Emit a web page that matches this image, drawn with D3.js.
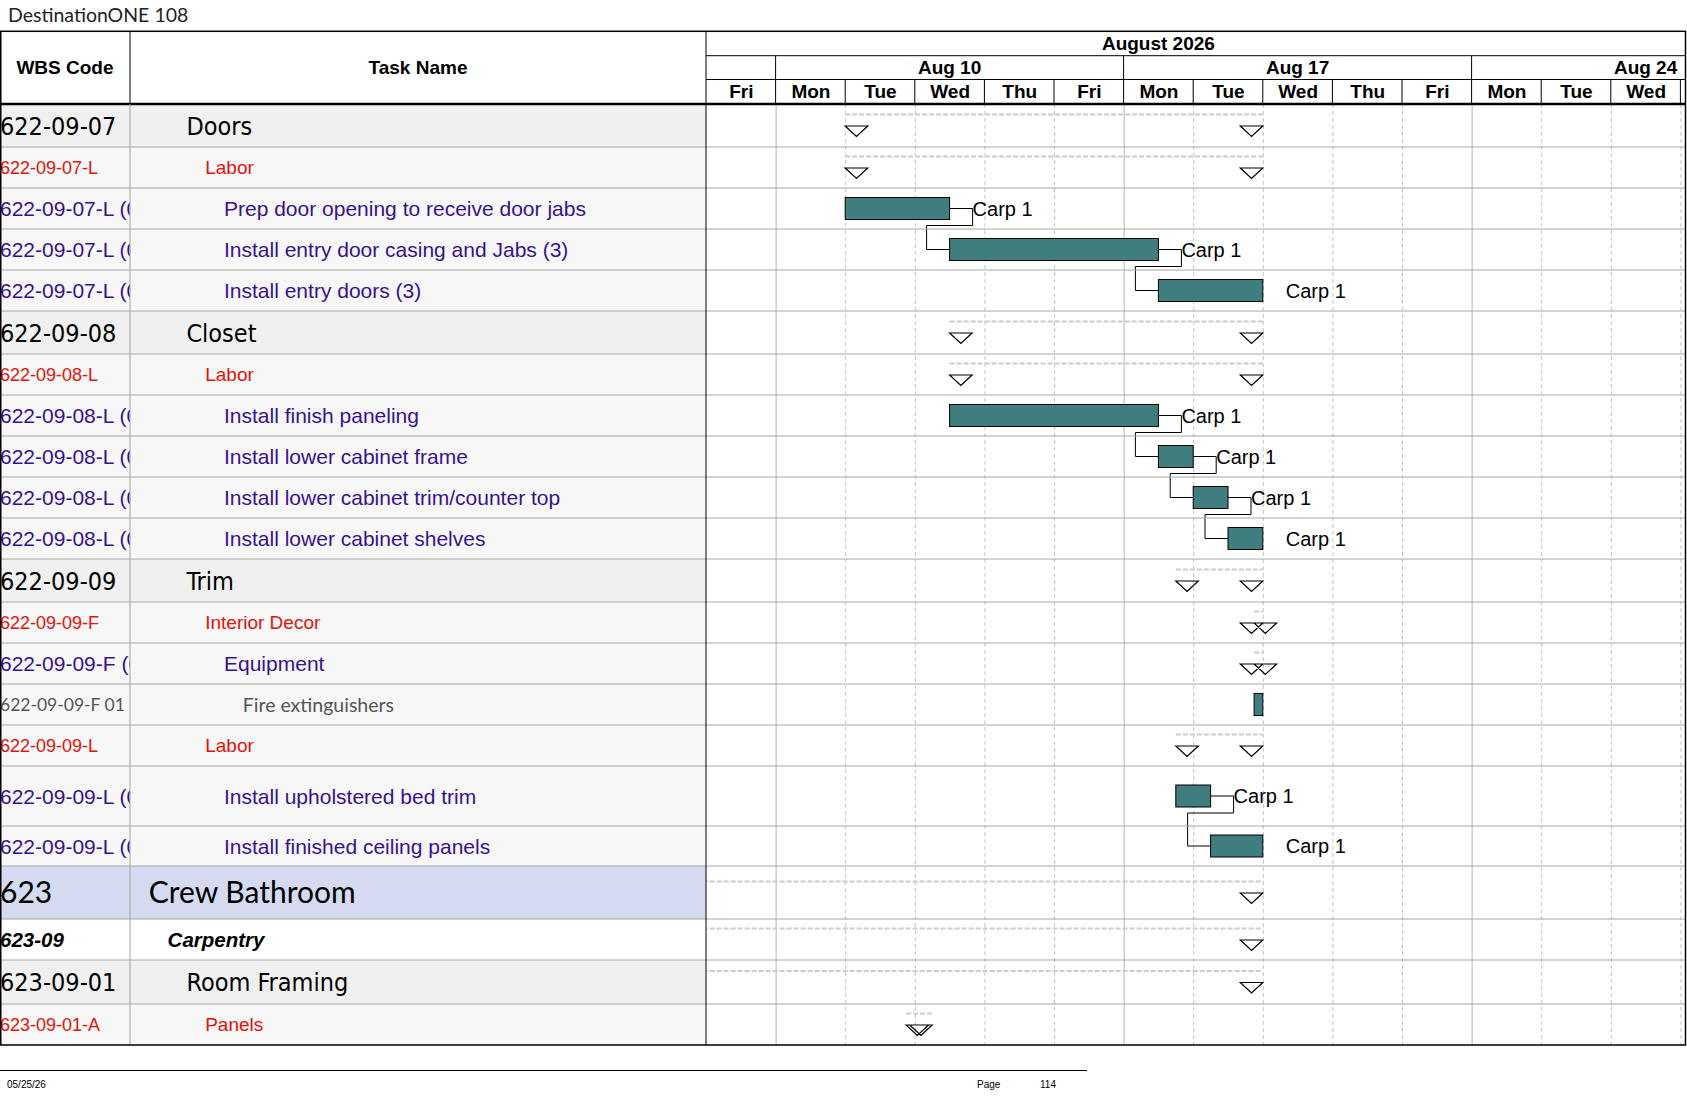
<!DOCTYPE html>
<html>
<head>
<meta charset="utf-8">
<title>DestinationONE 108 - Gantt</title>
<script src="https://d3js.org/d3.v7.min.js"></script>
<style>
  body { margin: 0; background: #fff; }
  svg { display: block; font-family: "Liberation Sans", Arial, sans-serif; }
</style>
</head>
<body>
<svg id="chart"></svg>
<script>
// ---------- data ----------
const wbsCodes = [
  "622-09-07", "622-09-07-L", "622-09-07-L (01)", "622-09-07-L (02)", "622-09-07-L (03)",
  "622-09-08", "622-09-08-L", "622-09-08-L (01)", "622-09-08-L (02)", "622-09-08-L (03)", "622-09-08-L (04)",
  "622-09-09", "622-09-09-F", "622-09-09-F (01)", "622-09-09-F 01", "622-09-09-L",
  "622-09-09-L (01)", "622-09-09-L (02)",
  "623", "623-09", "623-09-01", "623-09-01-A"
];
const taskNames = [
  "Doors", "Labor", "Prep door opening to receive door jabs", "Install entry door casing and Jabs (3)", "Install entry doors (3)",
  "Closet", "Labor", "Install finish paneling", "Install lower cabinet frame", "Install lower cabinet trim/counter top", "Install lower cabinet shelves",
  "Trim", "Interior Decor", "Equipment", "Fire extinguishers", "Labor",
  "Install upholstered bed trim", "Install finished ceiling panels",
  "Crew Bathroom", "Carpentry", "Room Framing", "Panels"
];
const outlineLevels = [3, 4, 5, 5, 5, 3, 4, 5, 5, 5, 5, 3, 4, 5, 6, 4, 5, 5, 1, 2, 3, 4];
const rowKinds = [
  "summary", "phase", "task", "task", "task",
  "summary", "phase", "task", "task", "task", "task",
  "summary", "phase", "task", "item", "phase", "task", "task",
  "group", "sub", "summary", "phase"
];
const markTypes = [
  "sum", "sum", "bar", "bar", "bar",
  "sum", "sum", "bar", "bar", "bar", "bar",
  "sum", "sum", "sum", "bar", "sum", "bar", "bar",
  "sum", "sum", "sum", "sum"
];
const starts = [
  "2026-08-11 08:00", "2026-08-11 08:00", "2026-08-11 08:00", "2026-08-12 13:00", "2026-08-17 13:00",
  "2026-08-12 13:00", "2026-08-12 13:00", "2026-08-12 13:00", "2026-08-17 13:00", "2026-08-18 08:00", "2026-08-18 13:00",
  "2026-08-17 15:00", "2026-08-18 16:00", "2026-08-18 16:00", "2026-08-18 16:00", "2026-08-17 15:00",
  "2026-08-17 15:00", "2026-08-18 10:00",
  "2026-07-27 08:00", "2026-07-27 08:00", "2026-07-27 08:00", "2026-08-11 16:00"
];
const finishes = [
  "2026-08-18 17:00", "2026-08-18 17:00", "2026-08-12 12:00", "2026-08-17 12:00", "2026-08-18 17:00",
  "2026-08-18 17:00", "2026-08-18 17:00", "2026-08-17 12:00", "2026-08-17 17:00", "2026-08-18 12:00", "2026-08-18 17:00",
  "2026-08-18 17:00", "2026-08-18 17:00", "2026-08-18 17:00", "2026-08-18 17:00", "2026-08-18 17:00",
  "2026-08-18 10:00", "2026-08-18 17:00",
  "2026-08-18 17:00", "2026-08-18 17:00", "2026-08-18 17:00", "2026-08-12 10:00"
];
const resources = [
  "", "", "Carp 1", "Carp 1", "Carp 1",
  "", "", "Carp 1", "Carp 1", "Carp 1", "Carp 1",
  "", "", "", "", "", "Carp 1", "Carp 1",
  "", "", "", ""
];
const predecessors = [null, null, null, 2, 3, null, null, null, 7, 8, 9, null, null, null, null, null, null, 16, null, null, null, null];

const dayDates = [
  "2026-08-07", "2026-08-10", "2026-08-11", "2026-08-12", "2026-08-13", "2026-08-14",
  "2026-08-17", "2026-08-18", "2026-08-19", "2026-08-20", "2026-08-21",
  "2026-08-24", "2026-08-25", "2026-08-26"
];
const weekStarts = ["2026-08-10", "2026-08-17", "2026-08-24"];
const monthStarts = ["2026-08-01"];
const monthEnds = ["2026-09-01"];

const pageTitle = "DestinationONE 108";
const printDate = "05/25/26";
const pageNumber = "114";

// ---------- layout ----------
const W = 1687, H = 1097;
const colWbs = 130, colTask = 706, chartRight = 1685.5;
const headTop = 31.3, monthBottom = 55.7, weekBottom = 79.5, headBottom = 104;
const rowHeights = [43, 41, 41, 41, 41, 43, 41, 41, 41, 41, 41, 43, 41, 41, 41, 41, 60, 40, 53, 41, 44, 41];
const rowTops = [];
rowHeights.reduce((acc, h, i) => { rowTops[i] = acc; return acc + h; }, headBottom);
const bodyBottom = rowTops[rowTops.length - 1] + rowHeights[rowHeights.length - 1];

const styles = {
  summary: { font: '"DejaVu Sans Condensed", "DejaVu Sans", sans-serif', codeSize: 25, nameSize: 25, color: "#000", bg: "#f0f0f0", cap: 0.73 },
  phase:   { font: '"Liberation Sans", Arial, sans-serif', codeSize: 18, nameSize: 19, color: "#e3120b", bg: "#f7f7f7", cap: 0.716 },
  task:    { font: '"Liberation Sans", Arial, sans-serif', codeSize: 21, nameSize: 21, color: "#38128e", bg: "#f7f7f7", cap: 0.716 },
  item:    { font: 'Lato, "Open Sans", sans-serif', codeSize: 17.5, nameSize: 19.5, color: "#555", bg: "#f7f7f7", cap: 0.72 },
  group:   { font: 'Lato, "Open Sans", sans-serif', codeSize: 30, nameSize: 30, color: "#000", bg: "#d4daf0", cap: 0.72 },
  sub:     { font: '"Liberation Sans", Arial, sans-serif', codeSize: 20.5, nameSize: 20.5, color: "#000", bg: "#ffffff", cap: 0.716, weight: "bold", italic: true }
};

// ---------- working time scale ----------
const parseTime = d3.timeParse("%Y-%m-%d %H:%M");
const origin = new Date(2026, 7, 7);
const isWork = d => d.getDay() !== 0 && d.getDay() !== 6;
function workIndex(str) {
  const t = str.length > 10 ? parseTime(str) : parseTime(str + " 08:00");
  const day = d3.timeDay.floor(t);
  const n = day >= origin
    ? d3.timeDay.range(origin, day).filter(isWork).length
    : -d3.timeDay.range(day, origin).filter(isWork).length;
  const h = t.getHours() + t.getMinutes() / 60;
  const worked = h <= 12 ? Math.max(0, h - 8) : Math.min(8, h - 9);
  return n + worked / 8;
}

const x = d3.scaleLinear().domain([0, 14]).range([colTask, 1680.4]);

const rows = wbsCodes.map((code, i) => ({
  i, code, name: taskNames[i], level: outlineLevels[i], kind: rowKinds[i], mark: markTypes[i],
  s: workIndex(starts[i]), f: workIndex(finishes[i]), res: resources[i], pred: predecessors[i],
  top: rowTops[i], h: rowHeights[i], cy: rowTops[i] + rowHeights[i] / 2
}));

// ---------- svg ----------
const svg = d3.select("#chart").attr("width", W).attr("height", H);
const defs = svg.append("defs");
defs.append("clipPath").attr("id", "clipWbs").append("rect")
  .attr("x", 0).attr("y", headTop).attr("width", colWbs).attr("height", bodyBottom - headTop);
defs.append("clipPath").attr("id", "clipTask").append("rect")
  .attr("x", colWbs).attr("y", headTop).attr("width", colTask - colWbs).attr("height", bodyBottom - headTop);
defs.append("clipPath").attr("id", "clipChart").append("rect")
  .attr("x", colTask).attr("y", headTop).attr("width", chartRight - colTask).attr("height", bodyBottom - headTop);

// title
svg.append("text").attr("x", 8).attr("y", 22)
  .style("font-family", 'Lato, "Open Sans", sans-serif').style("font-size", "19.5px").attr("fill", "#222")
  .text(pageTitle);

// table row backgrounds
svg.append("g").selectAll("rect").data(rows).join("rect")
  .attr("x", 0).attr("y", d => d.top).attr("width", colTask).attr("height", d => d.h)
  .attr("fill", d => styles[d.kind].bg);

// chart vertical gridlines via axis
const chartG = svg.append("g").attr("clip-path", "url(#clipChart)");
const weekIdx = weekStarts.map(workIndex);
chartG.append("g")
  .attr("transform", `translate(0,${headBottom})`)
  .call(d3.axisBottom(x).tickValues(d3.range(1, 15)).tickSize(bodyBottom - headBottom).tickFormat(""))
  .call(g => g.select(".domain").remove())
  .call(g => g.selectAll(".tick line")
    .attr("stroke", d => weekIdx.includes(d) ? "#b4b4b4" : "#c4c4c4")
    .attr("stroke-dasharray", d => weekIdx.includes(d) ? null : "4,3"));

// row separators
svg.append("g").selectAll("line").data(rows.slice(0, -1)).join("line")
  .attr("x1", 0).attr("x2", chartRight)
  .attr("y1", d => d.top + d.h).attr("y2", d => d.top + d.h)
  .attr("stroke", "#a8a8a8").attr("stroke-width", 1);

// table text
function styleText(sel, sizeKey) {
  sel.style("font-family", d => styles[d.kind].font)
    .style("font-size", d => styles[d.kind][sizeKey] + "px")
    .style("font-weight", d => styles[d.kind].weight || "normal")
    .style("font-style", d => styles[d.kind].italic ? "italic" : "normal")
    .attr("fill", d => styles[d.kind].color)
    .attr("y", d => d.cy + styles[d.kind][sizeKey] * styles[d.kind].cap / 2);
}
svg.append("g").attr("clip-path", "url(#clipWbs)")
  .selectAll("text").data(rows).join("text")
  .attr("x", 0).text(d => d.code)
  .call(styleText, "codeSize");
svg.append("g").attr("clip-path", "url(#clipTask)")
  .selectAll("text").data(rows).join("text")
  .attr("x", d => colWbs + 18.8 * d.level).text(d => d.name)
  .call(styleText, "nameSize");

// summary marks
const sums = rows.filter(d => d.mark === "sum");
const TRI_W = 22.5, TRI_H = 10.5;
chartG.append("g").selectAll("line").data(sums).join("line")
  .attr("x1", d => x(d.s)).attr("x2", d => x(d.f))
  .attr("y1", d => d.cy - 11).attr("y2", d => d.cy - 11)
  .attr("stroke", "#cccccc").attr("stroke-width", 2).attr("stroke-dasharray", "5,2");
const triangle = (x0, y0) => `M${x0},${y0}L${x0 + TRI_W},${y0}L${x0 + TRI_W / 2},${y0 + TRI_H}Z`;
chartG.append("g").selectAll("path").data(sums).join("path")
  .attr("d", d => triangle(x(d.s), d.cy + 0.5) + triangle(x(d.f) - TRI_W, d.cy + 0.5))
  .attr("fill", "none").attr("stroke", "#000").attr("stroke-width", 1.2);

// dependency links
const bars = rows.filter(d => d.mark === "bar");
const BAR_H = 22;
const linkLine = d3.line();
chartG.append("g").selectAll("path").data(bars.filter(d => d.pred !== null)).join("path")
  .attr("d", d => {
    const p = rows[d.pred];
    const xe = x(p.f), xs = x(d.s);
    const yMid = p.cy + BAR_H / 2 + 6;
    return linkLine([[xe, p.cy], [xe + 23, p.cy], [xe + 23, yMid], [xs - 23, yMid], [xs - 23, d.cy], [xs, d.cy]]);
  })
  .attr("fill", "none").attr("stroke", "#000").attr("stroke-width", 1);

// task bars
chartG.append("g").selectAll("rect").data(bars).join("rect")
  .attr("x", d => x(d.s)).attr("y", d => d.cy - BAR_H / 2)
  .attr("width", d => x(d.f) - x(d.s)).attr("height", BAR_H)
  .attr("fill", "#407d7e").attr("stroke", "#000").attr("stroke-width", 1);

// resource labels
chartG.append("g").selectAll("text").data(bars.filter(d => d.res)).join("text")
  .attr("x", d => x(d.f) + 23).attr("y", d => d.cy + 7)
  .style("font-size", "20px").attr("fill", "#000")
  .text(d => d.res);

// ---------- header ----------
const head = svg.append("g");
head.append("rect").attr("x", 0).attr("y", headTop).attr("width", chartRight).attr("height", headBottom - headTop).attr("fill", "#fff");
head.append("text").attr("x", colWbs / 2).attr("y", 74).attr("text-anchor", "middle")
  .style("font-size", "19px").style("font-weight", "bold").text("WBS Code");
head.append("text").attr("x", (colWbs + colTask) / 2).attr("y", 74).attr("text-anchor", "middle")
  .style("font-size", "19px").style("font-weight", "bold").text("Task Name");
head.append("line").attr("x1", colWbs).attr("x2", colWbs).attr("y1", headTop).attr("y2", headBottom).attr("stroke", "#000");

const timeHead = head.append("g").attr("clip-path", "url(#clipChart)");
const fmtMonth = d3.timeFormat("%B %Y");
const fmtWeek = d3.timeFormat("%b %-d");
const fmtDay = d3.timeFormat("%a");
const parseDay = d3.timeParse("%Y-%m-%d");

// month tier
timeHead.selectAll("text.month").data(monthStarts).join("text").attr("class", "month")
  .attr("x", (d, i) => x((workIndex(d) + workIndex(monthEnds[i])) / 2)).attr("y", 50)
  .attr("text-anchor", "middle").style("font-size", "19px").style("font-weight", "bold")
  .text(d => fmtMonth(parseDay(d)));

// week tier
timeHead.selectAll("text.week").data(weekStarts).join("text").attr("class", "week")
  .attr("x", d => x(workIndex(d) + 2.5)).attr("y", 74)
  .attr("text-anchor", "middle").style("font-size", "19px").style("font-weight", "bold")
  .text(d => fmtWeek(parseDay(d)));
timeHead.selectAll("line.week").data(weekIdx).join("line").attr("class", "week")
  .attr("x1", d => x(d)).attr("x2", d => x(d)).attr("y1", monthBottom).attr("y2", weekBottom)
  .attr("stroke", "#000");

// day tier (axis)
timeHead.append("g")
  .attr("transform", `translate(0,97.7)`)
  .call(d3.axisBottom(x)
    .tickValues(dayDates.map(d => workIndex(d) + 0.5))
    .tickFormat((d, i) => fmtDay(parseDay(dayDates[i])))
    .tickSize(0))
  .call(g => g.select(".domain").remove())
  .call(g => g.selectAll("text").attr("y", 0).attr("dy", null)
    .style("font-family", '"Liberation Sans", Arial, sans-serif')
    .style("font-size", "19px").style("font-weight", "bold").attr("fill", "#000"));
timeHead.selectAll("line.day").data(d3.range(1, 15)).join("line").attr("class", "day")
  .attr("x1", d => x(d)).attr("x2", d => x(d)).attr("y1", weekBottom).attr("y2", headBottom)
  .attr("stroke", "#000");

head.append("line").attr("x1", colTask).attr("x2", chartRight).attr("y1", monthBottom).attr("y2", monthBottom).attr("stroke", "#000");
head.append("line").attr("x1", colTask).attr("x2", chartRight).attr("y1", weekBottom).attr("y2", weekBottom).attr("stroke", "#000");
head.append("line").attr("x1", 0).attr("x2", chartRight).attr("y1", headBottom).attr("y2", headBottom)
  .attr("stroke", "#000").attr("stroke-width", 2.5);

// column dividers and border
svg.append("line").attr("x1", colWbs).attr("x2", colWbs).attr("y1", headBottom).attr("y2", bodyBottom).attr("stroke", "#a0a0a0");
svg.append("line").attr("x1", colTask).attr("x2", colTask).attr("y1", headTop).attr("y2", bodyBottom).attr("stroke", "#000");
svg.append("rect").attr("x", 0.75).attr("y", headTop).attr("width", chartRight - 0.75).attr("height", bodyBottom - headTop)
  .attr("fill", "none").attr("stroke", "#000").attr("stroke-width", 1.5);

// footer
svg.append("line").attr("x1", 0).attr("x2", 1087).attr("y1", 1070.5).attr("y2", 1070.5).attr("stroke", "#000");
const foot = svg.append("g").style("font-size", "10px").attr("fill", "#000");
foot.append("text").attr("x", 7).attr("y", 1088).text(printDate);
foot.append("text").attr("x", 977).attr("y", 1088).text("Page");
foot.append("text").attr("x", 1040).attr("y", 1088).text(pageNumber);
</script>
</body>
</html>
